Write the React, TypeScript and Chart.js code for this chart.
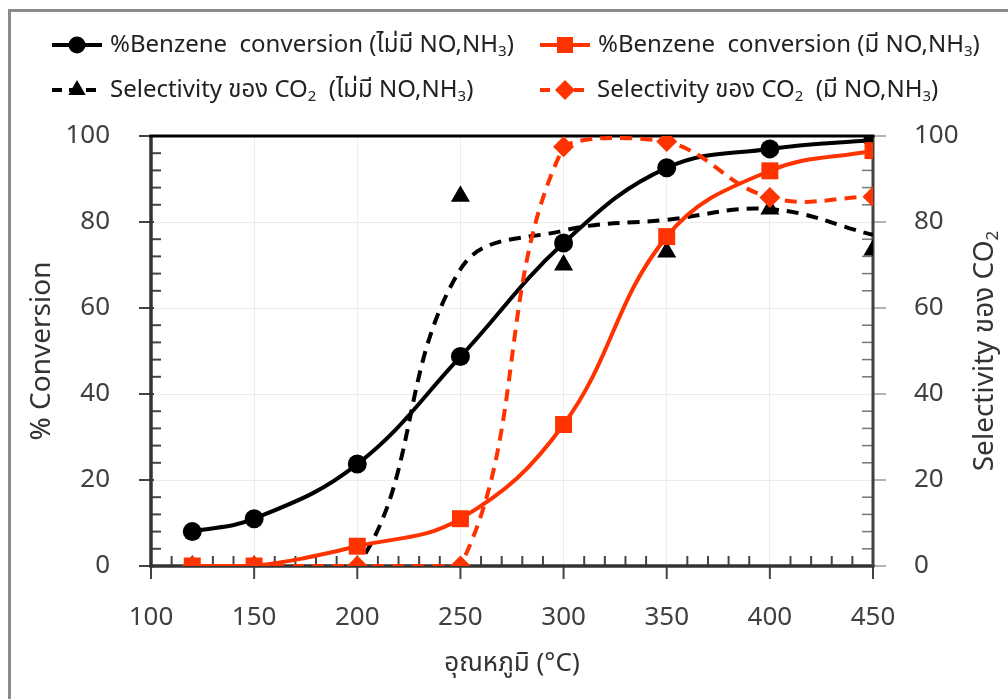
import React, { useEffect, useRef } from 'react';
import { Chart, registerables } from 'chart.js';

Chart.register(...registerables);

// ---------- data ----------
const temperatures = [120, 150, 200, 250, 300, 350, 400, 450];
const benzeneConvNoNOx = [8, 11, 23.7, 48.7, 75.1, 92.6, 97, 99.1];
const benzeneConvWithNOx = [0, 0, 4.6, 11, 32.9, 76.6, 91.9, 96.6];
const co2SelNoNOxPoints = [0, 0, 0, 86, 70, 73, 83, 73.5];
const co2SelNoNOxCurve = [0, 0, 0, 69, 78, 80.5, 83, 77];
const co2SelWithNOx = [0, 0, 0, 0, 97.5, 98.7, 85.7, 85.9];

const xTickValues = [100, 150, 200, 250, 300, 350, 400, 450];
const yTickValues = [0, 20, 40, 60, 80, 100];

const BLACK = '#000000';
const RED = '#ff3300';
const FONT = '"Noto Sans", "Noto Sans Thai", "DejaVu Sans", sans-serif';

type Seg = { t: string; sub?: boolean };

const legendItems: { segs: Seg[]; color: string; dashed: boolean; marker: string }[] = [
  { segs: [{ t: '%Benzene  conversion (ไม่มี NO,NH' }, { t: '3', sub: true }, { t: ')' }], color: BLACK, dashed: false, marker: 'circle' },
  { segs: [{ t: '%Benzene  conversion (มี NO,NH' }, { t: '3', sub: true }, { t: ')' }], color: RED, dashed: false, marker: 'rect' },
  { segs: [{ t: 'Selectivity ของ CO' }, { t: '2', sub: true }, { t: '  (ไม่มี NO,NH' }, { t: '3', sub: true }, { t: ')' }], color: BLACK, dashed: true, marker: 'triangle' },
  { segs: [{ t: 'Selectivity ของ CO' }, { t: '2', sub: true }, { t: '  (มี NO,NH' }, { t: '3', sub: true }, { t: ')' }], color: RED, dashed: true, marker: 'rectRot' },
];

const xTitle: Seg[] = [{ t: 'อุณหภูมิ (°C)' }];
const yTitle: Seg[] = [{ t: '% Conversion' }];
const y2Title: Seg[] = [{ t: 'Selectivity ของ CO' }, { t: '2', sub: true }];

function richWidth(ctx: CanvasRenderingContext2D, segs: Seg[], size: number) {
  let w = 0;
  for (const s of segs) {
    ctx.font = `${s.sub ? Math.round(size * 0.62) : size}px ${FONT}`;
    w += ctx.measureText(s.t).width;
  }
  return w;
}

function drawRich(ctx: CanvasRenderingContext2D, segs: Seg[], x: number, y: number, size: number, color: string, align: 'left' | 'center') {
  const w = richWidth(ctx, segs, size);
  let cx = align === 'center' ? x - w / 2 : x;
  ctx.fillStyle = color;
  ctx.textBaseline = 'middle';
  ctx.textAlign = 'left';
  for (const s of segs) {
    const fs = s.sub ? Math.round(size * 0.62) : size;
    ctx.font = `${fs}px ${FONT}`;
    ctx.fillText(s.t, cx, s.sub ? y + size * 0.28 : y);
    cx += ctx.measureText(s.t).width;
  }
}

function drawMarker(ctx: CanvasRenderingContext2D, type: string, x: number, y: number, color: string) {
  ctx.save();
  ctx.fillStyle = color;
  ctx.setLineDash([]);
  ctx.beginPath();
  if (type === 'circle') {
    ctx.arc(x, y, 8.5, 0, Math.PI * 2);
  } else if (type === 'rect') {
    ctx.rect(x - 8, y - 8, 16, 16);
  } else if (type === 'triangle') {
    const r = 10;
    ctx.moveTo(x, y - r);
    ctx.lineTo(x + r * 0.866, y + r * 0.5);
    ctx.lineTo(x - r * 0.866, y + r * 0.5);
    ctx.closePath();
  } else {
    const r = 10;
    ctx.moveTo(x, y - r);
    ctx.lineTo(x + r, y);
    ctx.lineTo(x, y + r);
    ctx.lineTo(x - r, y);
    ctx.closePath();
  }
  ctx.fill();
  ctx.restore();
}

const decorPlugin = {
  id: 'decor',
  beforeDraw(chart: any) {
    const ctx: CanvasRenderingContext2D = chart.ctx;
    ctx.save();
    ctx.fillStyle = '#ffffff';
    ctx.fillRect(0, 0, chart.width, chart.height);
    ctx.fillStyle = '#8a8a8a';
    ctx.fillRect(8, 9, 3, chart.height - 9);
    ctx.fillRect(8, 9, chart.width - 8, 3);
    ctx.restore();
  },
  beforeDatasetsDraw(chart: any) {
    const ctx: CanvasRenderingContext2D = chart.ctx;
    const { left, right, top, bottom } = chart.chartArea;
    const xs = chart.scales.x;
    const ys = chart.scales.y;
    ctx.save();
    ctx.lineCap = 'butt';
    for (let v = 0; v <= 100; v += 4) {
      if (v % 20 === 0) continue;
      const py = ys.getPixelForValue(v);
      ctx.strokeStyle = '#444';
      ctx.lineWidth = 2;
      ctx.beginPath(); ctx.moveTo(left, py); ctx.lineTo(left + 10, py); ctx.stroke();
      ctx.strokeStyle = '#777';
      ctx.lineWidth = 1.5;
      ctx.beginPath(); ctx.moveTo(right - 11, py); ctx.lineTo(right, py); ctx.stroke();
    }
    for (const v of yTickValues) {
      const py = ys.getPixelForValue(v);
      ctx.strokeStyle = '#444';
      ctx.lineWidth = 2;
      ctx.beginPath(); ctx.moveTo(left - 12, py); ctx.lineTo(left + 3, py); ctx.stroke();
      ctx.strokeStyle = '#999';
      ctx.lineWidth = 1.5;
      ctx.beginPath(); ctx.moveTo(right, py); ctx.lineTo(right + 13, py); ctx.stroke();
    }
    for (let v = 100; v <= 450; v += 10) {
      const px = xs.getPixelForValue(v);
      ctx.strokeStyle = '#444';
      ctx.lineWidth = 2;
      ctx.beginPath();
      if (v % 50 === 0) { ctx.moveTo(px, bottom); ctx.lineTo(px, bottom + 13); }
      else { ctx.moveTo(px, bottom - 10); ctx.lineTo(px, bottom); }
      ctx.stroke();
    }
    ctx.strokeStyle = '#333';
    ctx.lineWidth = 3.5;
    ctx.beginPath(); ctx.moveTo(left, top); ctx.lineTo(left, bottom + 1.5); ctx.stroke();
    ctx.beginPath(); ctx.moveTo(left - 1.5, bottom); ctx.lineTo(right + 1.5, bottom); ctx.stroke();
    ctx.strokeStyle = '#404040';
    ctx.lineWidth = 3;
    ctx.beginPath(); ctx.moveTo(right, top); ctx.lineTo(right, bottom); ctx.stroke();
    ctx.strokeStyle = '#000';
    ctx.lineWidth = 3;
    ctx.beginPath(); ctx.moveTo(left - 1.5, top); ctx.lineTo(right + 1.5, top); ctx.stroke();
    ctx.restore();
  },
  afterDraw(chart: any) {
    const ctx: CanvasRenderingContext2D = chart.ctx;
    const { left, right, top, bottom } = chart.chartArea;
    ctx.save();
    drawRich(ctx, xTitle, (left + right) / 2, 664, 26, '#333', 'center');
    ctx.save();
    ctx.translate(42, (top + bottom) / 2);
    ctx.rotate(-Math.PI / 2);
    drawRich(ctx, yTitle, 0, 0, 28, '#333', 'center');
    ctx.restore();
    ctx.save();
    ctx.translate(985, (top + bottom) / 2);
    ctx.rotate(-Math.PI / 2);
    drawRich(ctx, y2Title, 0, 0, 28, '#333', 'center');
    ctx.restore();

    const pos = [
      { lx: 52, ly: 45, tx: 110 },
      { lx: 540, ly: 45, tx: 598 },
      { lx: 52, ly: 90, tx: 110 },
      { lx: 540, ly: 90, tx: 597 },
    ];
    legendItems.forEach((it, i) => {
      const p = pos[i];
      ctx.save();
      ctx.strokeStyle = it.color;
      ctx.lineWidth = 4;
      if (it.dashed) ctx.setLineDash([10, 7]);
      ctx.beginPath();
      ctx.moveTo(p.lx, p.ly);
      ctx.lineTo(p.lx + 50, p.ly);
      ctx.stroke();
      ctx.restore();
      drawMarker(ctx, it.marker, p.lx + 25, p.ly, it.color);
      drawRich(ctx, it.segs, p.tx, p.ly, 24, '#222', 'left');
    });
    ctx.restore();
  },
};

const toPoints = (ys: number[]) => temperatures.map((t, i) => ({ x: t, y: ys[i] }));

export default function App() {
  const ref = useRef<HTMLCanvasElement | null>(null);
  useEffect(() => {
    if (!ref.current) return;
    const tickFont = { family: FONT, size: 26 };
    const chart = new Chart(ref.current, {
      type: 'line',
      data: {
        datasets: [
          {
            label: 'Selectivity CO2 (with NO,NH3)',
            data: toPoints(co2SelWithNOx),
            yAxisID: 'y2',
            borderColor: RED,
            backgroundColor: RED,
            borderWidth: 4,
            borderDash: [12, 8],
            tension: 0.4,
            pointStyle: 'rectRot',
            pointRadius: 10.5,
            pointBorderWidth: 0,
            order: 0,
          },
          {
            label: '%Benzene conversion (with NO,NH3)',
            data: toPoints(benzeneConvWithNOx),
            yAxisID: 'y',
            borderColor: RED,
            backgroundColor: RED,
            borderWidth: 4,
            tension: 0.4,
            pointStyle: 'rect',
            pointRadius: 12,
            pointBorderWidth: 0,
            order: 1,
          },
          {
            label: 'Selectivity CO2 points (without)',
            data: toPoints(co2SelNoNOxPoints),
            yAxisID: 'y2',
            showLine: false,
            borderColor: BLACK,
            backgroundColor: BLACK,
            pointStyle: 'triangle',
            pointRadius: 11,
            pointBorderWidth: 0,
            order: 2,
          },
          {
            label: 'Selectivity CO2 curve (without)',
            data: toPoints(co2SelNoNOxCurve),
            yAxisID: 'y2',
            borderColor: BLACK,
            backgroundColor: BLACK,
            borderWidth: 4,
            borderDash: [12, 8],
            tension: 0.4,
            pointRadius: 0,
            order: 3,
          },
          {
            label: '%Benzene conversion (without)',
            data: toPoints(benzeneConvNoNOx),
            yAxisID: 'y',
            borderColor: BLACK,
            backgroundColor: BLACK,
            borderWidth: 4,
            tension: 0.4,
            pointStyle: 'circle',
            pointRadius: 9.5,
            pointBorderWidth: 0,
            order: 4,
          },
        ],
      },
      options: {
        animation: false,
        responsive: false,
        devicePixelRatio: 1,
        layout: { padding: { top: 136, left: 0, right: 0, bottom: 0 } },
        plugins: { legend: { display: false }, tooltip: { enabled: false }, title: { display: false } },
        elements: { line: { capBezierPoints: true } },
        scales: {
          x: {
            type: 'linear',
            min: 100,
            max: 450,
            afterBuildTicks: (s: any) => { s.ticks = xTickValues.map((v) => ({ value: v })); },
            afterFit: (s: any) => { s.height = 133; },
            ticks: { font: tickFont, color: '#404040', padding: 36, maxRotation: 0 },
            grid: { color: '#ececec', lineWidth: 1, drawTicks: false },
            border: { display: false },
          },
          y: {
            type: 'linear',
            position: 'left',
            min: 0,
            max: 100,
            afterBuildTicks: (s: any) => { s.ticks = yTickValues.map((v) => ({ value: v })); },
            afterFit: (s: any) => { s.width = 151; },
            ticks: { font: tickFont, color: '#404040', padding: 41 },
            grid: { color: '#ececec', lineWidth: 1, drawTicks: false },
            border: { display: false },
          },
          y2: {
            type: 'linear',
            position: 'right',
            min: 0,
            max: 100,
            afterBuildTicks: (s: any) => { s.ticks = yTickValues.map((v) => ({ value: v })); },
            afterFit: (s: any) => { s.width = 135; },
            ticks: { font: tickFont, color: '#404040', padding: 41 },
            grid: { drawOnChartArea: false, drawTicks: false },
            border: { display: false },
          },
        },
      },
      plugins: [decorPlugin],
    } as any);
    return () => chart.destroy();
  }, []);
  return (
    <div style={{ position: 'fixed', left: 0, top: 0, width: 1008, height: 699, background: '#fff' }}>
      <canvas ref={ref} width={1008} height={699} style={{ display: 'block', width: 1008, height: 699 }} />
    </div>
  );
}
